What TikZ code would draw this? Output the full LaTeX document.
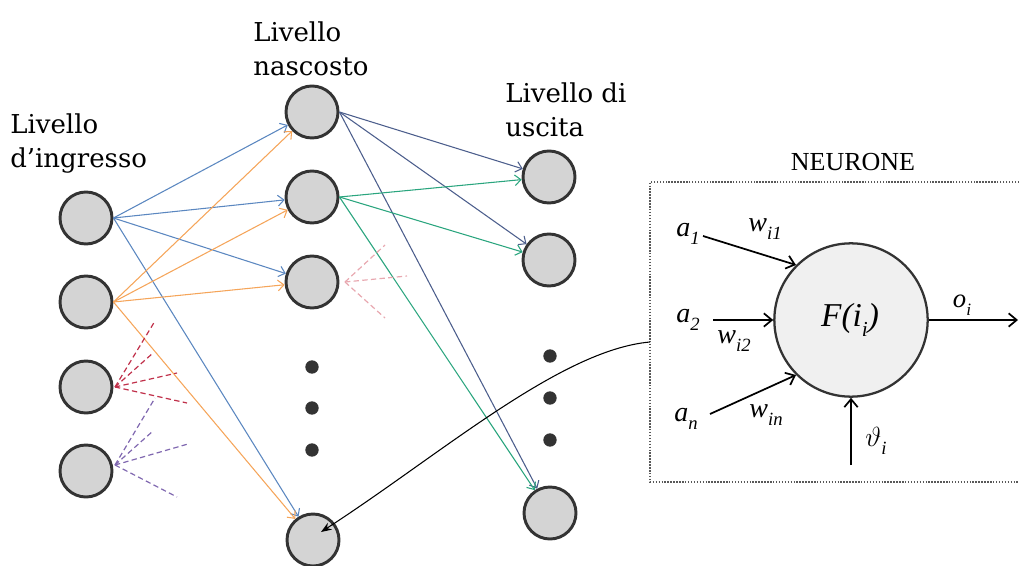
\documentclass[tikz,border=0pt]{standalone}
\usepackage{fontspec}
\setmainfont{Liberation Serif}
\newfontfamily\labfont{DejaVu Serif}
\usetikzlibrary{arrows.meta}
\definecolor{cblue}{HTML}{5B87C0}
\definecolor{corange}{HTML}{F5A55A}
\definecolor{cgreen}{HTML}{2AA57E}
\definecolor{cslate}{HTML}{4C5E8C}
\definecolor{cred}{HTML}{C0304A}
\definecolor{cpurple}{HTML}{8068B0}
\definecolor{cpink}{HTML}{E8A8B0}
\definecolor{nodefill}{HTML}{D4D4D4}
\definecolor{nodeedge}{HTML}{333333}
\newcommand\labsub[3]{\textit{#1}\raisebox{-0.3em}{\fontsize{#3}{#3}\selectfont\textit{#2}}}
\tikzset{
  neur/.style={circle, draw=nodeedge, line width=2.2pt, fill=nodefill, minimum size=39pt, inner sep=0pt},
  dotnode/.style={circle, fill=nodeedge, minimum size=10pt, inner sep=0pt},
  conn/.style={line width=0.8pt, -{Straight Barb[length=4.5pt,width=8pt]}},
  stub/.style={line width=0.9pt, dash pattern=on 4pt off 2.5pt},
  layerlab/.style={font=\labfont\fontsize{19.5}{25.5}\selectfont, align=left, anchor=north west, inner sep=0pt},
  biglab/.style={font=\fontsize{21}{24}\selectfont, inner sep=0pt},
  narr/.style={line width=1.3pt, -{Straight Barb[length=6pt,width=10pt]}},
}
\begin{document}
\begin{tikzpicture}[x=0.75pt,y=-0.75pt]
\useasboundingbox (0,0) rectangle (1019,566);
% layer labels
\node[layerlab] (linp) at (10,113) {Livello\\d’ingresso};
\node[layerlab] (lhid) at (253,21) {Livello\\nascosto};
\node[layerlab] (lout) at (505,82) {Livello di\\uscita};
% input nodes
\node[neur] (i1) at (86,218) {};
\node[neur] (i2) at (86,302) {};
\node[neur] (i3) at (86,387) {};
\node[neur] (i4) at (86,471) {};
% hidden nodes
\node[neur] (h1) at (312,112) {};
\node[neur] (h2) at (312,197) {};
\node[neur] (h3) at (312,282) {};
\node[neur] (h4) at (313,540) {};
\node[dotnode] (hd1) at (312,367) {};
\node[dotnode] (hd2) at (312,408) {};
\node[dotnode] (hd3) at (312,450) {};
% output nodes
\node[neur] (o1) at (549,177) {};
\node[neur] (o2) at (549,260) {};
\node[neur] (o4) at (550,513) {};
\node[dotnode] (od1) at (550,356) {};
\node[dotnode] (od2) at (550,398) {};
\node[dotnode] (od3) at (550,440) {};
% connections
\foreach \t in {h1,h2,h3,h4} \draw[conn, cblue] (i1.east) -- (\t);
\foreach \t in {h1,h2,h3,h4} \draw[conn, corange] (i2.east) -- (\t);
\foreach \t in {o1,o2,o4} \draw[conn, cslate] (h1.east) -- (\t);
\foreach \t in {o1,o2,o4} \draw[conn, cgreen] (h2.east) -- (\t);
% dashed stubs
\coordinate (r1) at (155,321); \coordinate (r2) at (153,353);
\coordinate (r3) at (177,373); \coordinate (r4) at (187,403);
\coordinate (p1) at (155,398); \coordinate (p2) at (153,431);
\coordinate (p3) at (188,444); \coordinate (p4) at (177,497);
\coordinate (k1) at (385,245); \coordinate (k2) at (407,276); \coordinate (k3) at (385,318);
\coordinate (i3o) at (115,387); \coordinate (i4o) at (115,465); \coordinate (h3o) at (345,282);
\foreach \t in {r1,r2,r3,r4} \draw[stub, cred] (i3o) -- (\t);
\foreach \t in {p1,p2,p3,p4} \draw[stub, cpurple] (i4o) -- (\t);
\foreach \t in {k1,k2,k3} \draw[stub, cpink] (h3o) -- (\t);
% neuron box
\node[font=\fontsize{19.5}{22}\selectfont, inner sep=0pt] (title) at (853,162) {NEURONE};
\coordinate (btr) at (1019,182); \coordinate (btl) at (650,182);
\coordinate (bbl) at (650,482); \coordinate (bbr) at (1019,482);
\draw[line width=1.1pt, color=black!65, dash pattern=on 1.1pt off 1.1pt] (btr) -- (btl) -- (bbl) -- (bbr);
\node[circle, draw=nodeedge, line width=1.7pt, fill=black!6, minimum size=115pt, inner sep=0pt] (N) at (851,320) {};
\node[font=\fontsize{25}{28}\selectfont, inner sep=0pt] (F) at (850,320) {\labsub{F(i}{i}{16}\textit{)}};
\node[biglab] (a1) at (688,234) {\labsub{a}{1}{14}};
\node[biglab] (a2) at (688,320) {\labsub{a}{2}{14}};
\node[biglab] (an) at (686,419) {\labsub{a}{n}{14}};
\node[biglab] (w1) at (765,229) {\labsub{w}{i1}{14}};
\node[biglab] (w2) at (734,341) {\labsub{w}{i2}{14}};
\node[biglab] (wn) at (766,415) {\labsub{w}{in}{14}};
\node[biglab] (th) at (876,441) {$\vartheta$\raisebox{-0.3em}{\fontsize{14}{14}\selectfont\textit{i}}};
\node[font=\fontsize{20}{22}\selectfont, inner sep=0pt] (oi) at (962,305) {\labsub{o}{i}{13}};
\coordinate (a1s) at (703,236);
\coordinate (a2s) at (713,320);
\coordinate (ans) at (710,414);
\coordinate (ths) at (851,465);
\coordinate (oute) at (1018,320);
\draw[narr] (a1s) -- (N.135);
\draw[narr] (a2s) -- (N.180);
\draw[narr] (ans) -- (N.225);
\draw[narr] (ths) -- (N.270);
\draw[narr] (N.0) -- (oute);
% curved link
\coordinate (cs) at (650,342);
\coordinate (ce) at (321,532);
\draw[line width=0.8pt, -{Stealth[length=8pt,width=6pt]}] (cs) .. controls (560,350) and (440,455) .. (ce);
\end{tikzpicture}
\end{document}
